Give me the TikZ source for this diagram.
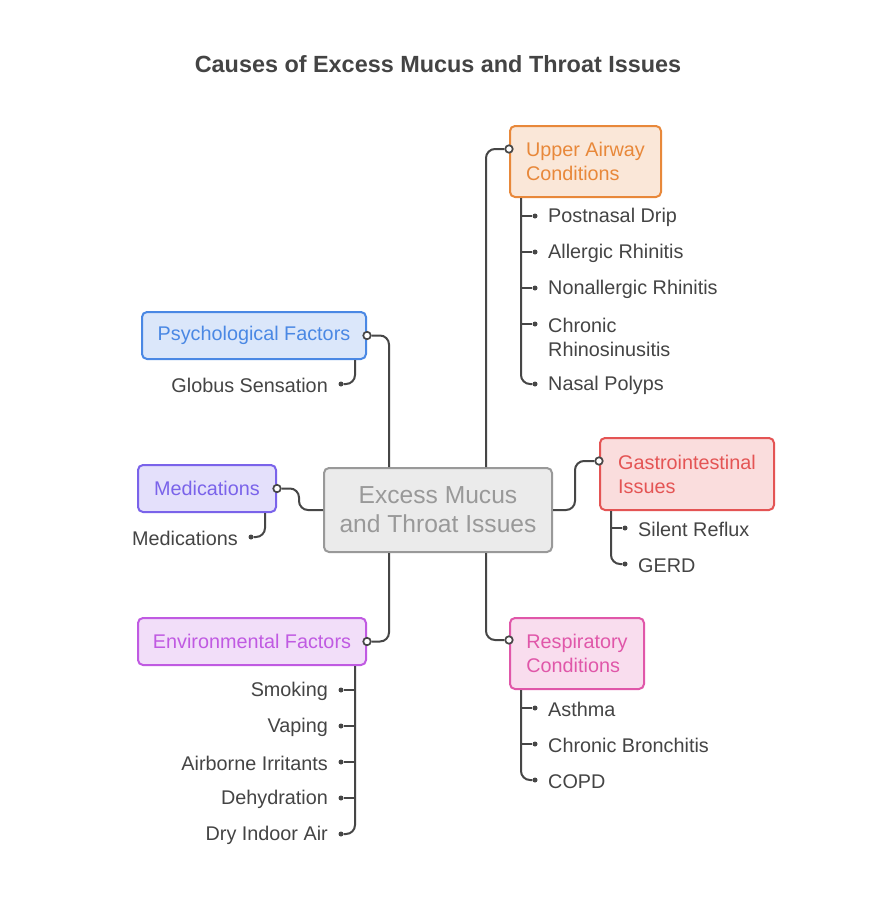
\documentclass[tikz,border=0pt]{standalone}
\usepackage{fontspec}
\setmainfont{Liberation Sans}
\usepackage{tikz}
\definecolor{CauseMapColor1}{RGB}{232,136,58}
\definecolor{CauseMapColor2}{RGB}{74,136,228}
\definecolor{CauseMapColor3}{RGB}{122,99,234}
\definecolor{CauseMapColor4}{RGB}{192,90,226}
\definecolor{CauseMapColor5}{RGB}{228,84,84}
\definecolor{CauseMapColor6}{RGB}{224,87,169}
\definecolor{CauseMapLink}{RGB}{70,70,70}
\definecolor{CauseMapText}{RGB}{68,68,68}
\definecolor{CauseMapHub}{RGB}{153,153,153}

\begin{document}
\begin{tikzpicture}[x=1pt,y=-1pt,font=\fontsize{19.8}{24}\selectfont,
  cat/.style n args={3}{draw=#1,fill=#1!20,text=#1,line width=2pt,rounded corners=5pt,minimum width=#2,minimum height=#3,inner xsep=14pt,inner ysep=0pt,align=left},
  port/.style={circle,draw=CauseMapLink,fill=white,line width=1.7pt,inner sep=0pt,minimum size=7.5pt},
  dot/.style={circle,fill=CauseMapLink,inner sep=0pt,minimum size=5pt},
  leaf/.style={text=CauseMapText,inner sep=0pt,align=left,yshift=-1.5pt},
  link/.style={draw=CauseMapLink,line width=2pt,rounded corners=9pt}]
\fill[white] (0,0) rectangle (876,924);
\useasboundingbox (0,0) rectangle (876,924);
\node[font=\bfseries\fontsize{23.4}{28}\selectfont,text=CauseMapText] (title) at (438,64) {Causes of Excess Mucus and Throat Issues};
\node[draw=CauseMapHub,fill=CauseMapHub!20,text=CauseMapHub,line width=2pt,rounded corners=5pt,minimum width=228pt,minimum height=84pt,align=center,font=\fontsize{24.6}{29}\selectfont] (hub) at (438,510) {Excess Mucus\\and Throat Issues};
% categories
\node[cat={CauseMapColor1}{151pt}{71pt}] (ua) at (585.5,161.5) {Upper Airway\\Conditions};
\node[cat={CauseMapColor2}{224pt}{47pt}] (ps) at (254,335.5) {Psychological Factors};
\node[cat={CauseMapColor3}{138pt}{47pt}] (md) at (207,488.5) {Medications};
\node[cat={CauseMapColor4}{228pt}{47pt}] (ev) at (252,641.5) {Environmental Factors};
\node[cat={CauseMapColor5}{174pt}{72pt}] (gi) at (687,474) {Gastrointestinal\\Issues};
\node[cat={CauseMapColor6}{134pt}{71pt}] (rs) at (577,653.5) {Respiratory\\Conditions};
\node[port] (uap) at ([yshift=-24pt]ua.north west) {};
\node[port] (psp) at (ps.east) {};
\node[port] (mdp) at (md.east) {};
\node[port] (evp) at (ev.east) {};
\node[port] (gip) at ([yshift=-24pt]gi.north west) {};
\node[port] (rsp) at ([yshift=-23pt]rs.north west) {};
\draw[link] ([xshift=48pt]hub.north) |- (uap.west);
\draw[link] ([xshift=-49pt]hub.north) |- (psp.east);
\draw[link] (mdp.east) -| ([xshift=-24pt]hub.west) -- (hub.west);
\draw[link] ([xshift=-49pt]hub.south) |- (evp.east);
\draw[link] (hub.east) -| ([xshift=-24pt]gip.center) -- (gip.west);
\draw[link] ([xshift=48pt]hub.south) |- (rsp.west);
% leaves
\foreach \i/\dy/\ty/\l in %
{1/216/216/Postnasal Drip,2/252/252/Allergic Rhinitis,3/288/288/Nonallergic Rhinitis,4/324/336/{Chronic\\Rhinosinusitis},5/384/384/Nasal Polyps} {
   \node[leaf,anchor=west] (ua\i) at (548,\ty) {\l};
   \node[dot] (uad\i) at (535,\dy) {};
}
\draw[link] ([xshift=12pt]ua.south west) |- (uad5);
\foreach \i in {1,...,4} \draw[link] (522,0 |- uad\i) -- (uad\i);
\node[leaf,anchor=east] (ps1) at (328,384) {Globus Sensation};
\node[dot] (psd1) at (341,384) {};
\draw[link] ([xshift=-12pt]ps.south east) |- (psd1);
\node[leaf,anchor=east] (md1) at (238,537) {Medications};
\node[dot] (mdd1) at (251,537) {};
\draw[link] ([xshift=-12pt]md.south east) |- (mdd1);
\foreach \i/\y/\l in %
{1/690/Smoking,2/726/Vaping,3/762/Airborne Irritants,4/798/Dehydration,5/834/Dry Indoor Air} {
   \node[leaf,anchor=east] (ev\i) at (328,\y) {\l};
   \node[dot] (evd\i) at (341,\y) {};
}
\draw[link] ([xshift=-12pt]ev.south east) |- (evd5);
\foreach \i in {1,...,4} \draw[link] (354,0 |- evd\i) -- (evd\i);
\foreach \i/\y/\l in %
{1/528/Silent Reflux,2/564/GERD} {
   \node[leaf,anchor=west] (gi\i) at (638,\y) {\l};
   \node[dot] (gid\i) at (625,\y) {};
}
\draw[link] ([xshift=12pt]gi.south west) |- (gid2);
\draw[link] (612,0 |- gid1) -- (gid1);
\foreach \i/\y/\l in %
{1/708/Asthma,2/744/Chronic Bronchitis,3/780/COPD} {
   \node[leaf,anchor=west] (rs\i) at (548,\y) {\l};
   \node[dot] (rsd\i) at (535,\y) {};
}
\draw[link] ([xshift=12pt]rs.south west) |- (rsd3);
\foreach \i in {1,2} \draw[link] (522,0 |- rsd\i) -- (rsd\i);
\end{tikzpicture}
\end{document}
